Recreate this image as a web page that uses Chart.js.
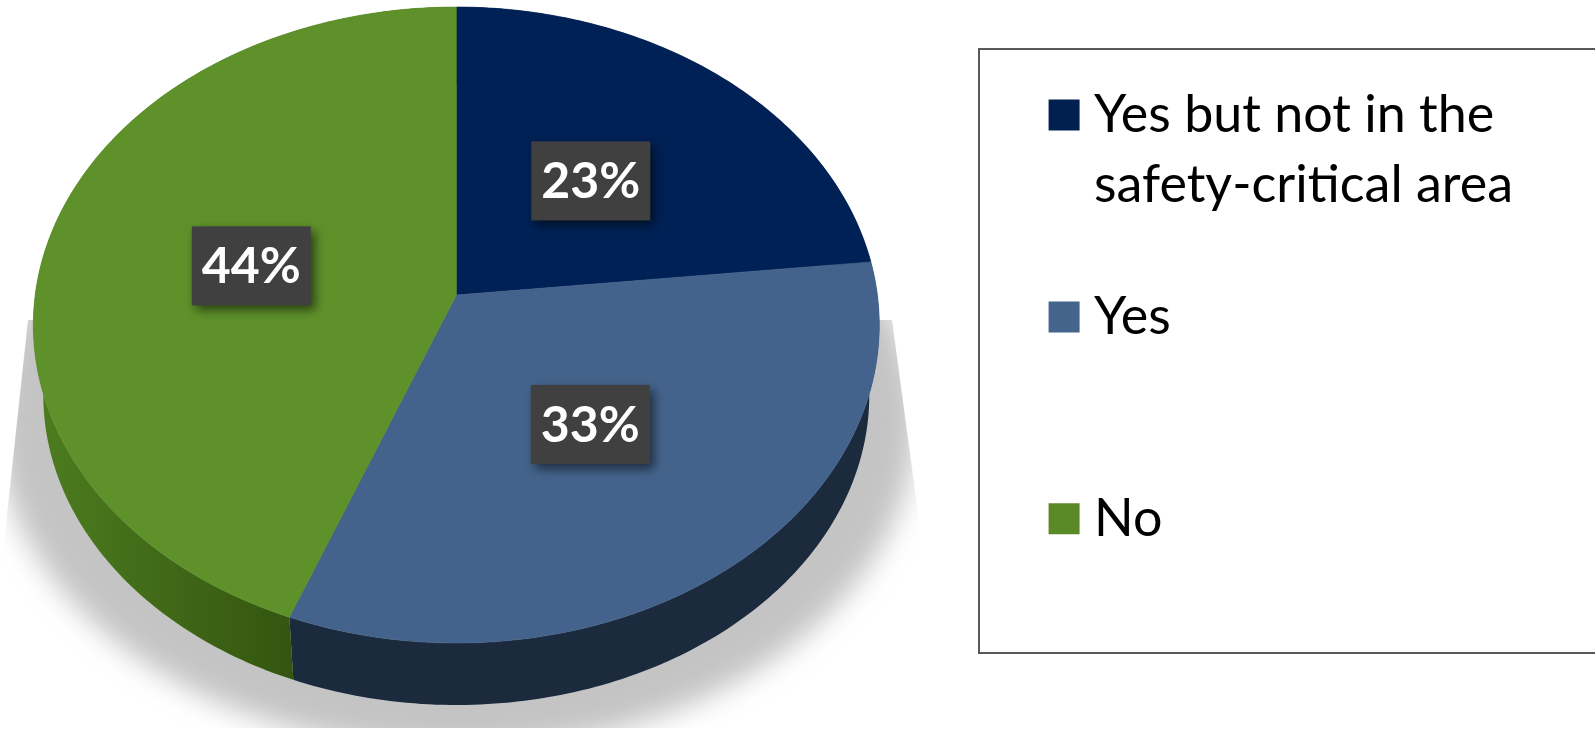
<!DOCTYPE html>
<html>
<head>
<meta charset="utf-8">
<style>
  html, body { margin: 0; padding: 0; background: #fff; overflow: hidden; }
  canvas { display: block; }
</style>
</head>
<body>
<canvas id="pieChart" width="1595" height="730"></canvas>
<script src="https://cdn.jsdelivr.net/npm/chart.js@4"></script>
<script>
const categories = [
    ["Yes but not in the", "safety-critical area"],
    ["Yes", ""],
    ["No"]
];
const shares = [23, 33, 44];
const topColors = ["#002155", "#44638c", "#5e912a"];
const wallColors = ["#16233a", "#1b2a3c", "#3f6a19"];
const legendColors = ["#00214f", "#44648c", "#5a8a28"];

const rimTilt = 0.075;   // perspective on the outer edge
const apexTilt = 0.094;  // how far the apex sits above the middle of the top ellipse
const discShift = -43;   // pie sits left of the plot area's centre

// point for an arc angle at radius r, in unit ellipse coordinates
function discPoint(angle, r, tilt) {
    const theta = angle + Math.PI / 2;
    const c = r * Math.cos(theta), s = r * Math.sin(theta);
    const w = 1 + tilt * c;
    return { x: s * Math.sqrt(1 - tilt * tilt) / w, y: (c + tilt) / w };
}

function topEllipse(arc) {
    return { x: arc.x + discShift, y: arc.y - 40, rx: arc.outerRadius * 1.2533, ry: arc.outerRadius * 0.9422 };
}

function bottomEllipse(arc) {
    return { x: arc.x + discShift, y: arc.y + 30, rx: arc.outerRadius * 1.2237, ry: arc.outerRadius * 0.9185 };
}

function place(e, p) {
    return { x: e.x + e.rx * p.x, y: e.y - e.ry * p.y };
}

function anglesOf(arc) {
    const out = [];
    const steps = Math.ceil((arc.endAngle - arc.startAngle) * 60);
    for (let i = 0; i <= steps; i++) {
        out.push(arc.startAngle + (arc.endAngle - arc.startAngle) * i / steps);
    }
    return out;
}

const pie3d = {
    id: "pie3d",
    beforeDatasetDraw(chart, args) {
        const ctx = chart.ctx;
        const arcs = args.meta.data;
        const first = arcs[0];
        const top = topEllipse(first), bottom = bottomEllipse(first);

        // soft floor shadow
        ctx.save();
        ctx.beginPath();
        ctx.moveTo(28, 320);
        ctx.lineTo(892, 320);
        ctx.lineTo(947, 728);
        ctx.lineTo(-16, 728);
        ctx.closePath();
        ctx.clip();
        ctx.filter = "blur(14px)";
        ctx.fillStyle = "#c4c4c4";
        ctx.beginPath();
        ctx.ellipse(top.x, 420, 460, 330, 0, 0, Math.PI * 2);
        ctx.fill();
        ctx.restore();

        // side walls
        arcs.forEach((arc, i) => {
            const angles = anglesOf(arc);
            ctx.beginPath();
            angles.forEach(a => {
                const p = place(top, discPoint(a, 1, rimTilt));
                ctx.lineTo(p.x, p.y);
            });
            angles.reverse().forEach(a => {
                const p = place(bottom, discPoint(a, 1, rimTilt));
                ctx.lineTo(p.x, p.y);
            });
            ctx.closePath();
            if (i === 2) {
                const g = ctx.createLinearGradient(40, 0, 300, 0);
                g.addColorStop(0, "#4c7c1f");
                g.addColorStop(1, "#33540f");
                ctx.fillStyle = g;
            } else {
                ctx.fillStyle = wallColors[i];
            }
            ctx.fill();
        });

        // top faces
        arcs.forEach((arc, i) => {
            const apex = place(top, discPoint(0, 0, apexTilt));
            ctx.beginPath();
            ctx.moveTo(apex.x, apex.y);
            anglesOf(arc).forEach(a => {
                const p = place(top, discPoint(a, 1, rimTilt));
                ctx.lineTo(p.x, p.y);
            });
            ctx.closePath();
            ctx.fillStyle = topColors[i];
            ctx.strokeStyle = topColors[i];
            ctx.lineWidth = 0.6;
            ctx.fill();
            ctx.stroke();
        });

        // percentage tags at half radius
        arcs.forEach((arc, i) => {
            const mid = (arc.startAngle + arc.endAngle) / 2;
            const p = place(top, discPoint(mid, 0.5, apexTilt));
            ctx.save();
            ctx.shadowColor = "rgba(0,0,0,0.55)";
            ctx.shadowBlur = 10;
            ctx.shadowOffsetX = 4;
            ctx.shadowOffsetY = 5;
            ctx.fillStyle = "#404040";
            ctx.fillRect(p.x - 59.5, p.y - 39.5, 119, 79);
            ctx.restore();
            ctx.fillStyle = "#ffffff";
            ctx.font = "bold 50px Lato";
            ctx.textAlign = "center";
            ctx.textBaseline = "middle";
            ctx.fillText(shares[i] + "%", p.x, p.y + 1);
        });
        return false;
    },
    afterDraw(chart) {
        // legend frame, open to the right edge
        const ctx = chart.ctx;
        ctx.save();
        ctx.strokeStyle = "#595959";
        ctx.lineWidth = 2;
        ctx.beginPath();
        ctx.moveTo(1600, 49);
        ctx.lineTo(979, 49);
        ctx.lineTo(979, 653);
        ctx.lineTo(1600, 653);
        ctx.stroke();
        ctx.restore();
    }
};

new Chart(document.getElementById("pieChart"), {
    type: "pie",
    data: {
        labels: categories,
        datasets: [{ data: shares, backgroundColor: topColors, borderWidth: 0 }]
    },
    plugins: [pie3d],
    options: {
        responsive: false,
        animation: false,
        devicePixelRatio: 1,
        layout: { padding: { top: 27.5, bottom: 27.5, right: 72 } },
        plugins: {
            tooltip: { enabled: false },
            legend: {
                position: "right",
                align: "start",
                labels: {
                    color: "#404040",
                    font: { family: "Lato", size: 52, lineHeight: 1.35 },
                    padding: 61.5,
                    boxWidth: 8,
                    boxHeight: 8,
                    generateLabels: chart => categories.map((text, i) => ({
                        text,
                        fillStyle: legendColors[i],
                        strokeStyle: legendColors[i],
                        lineWidth: 23,
                        index: i
                    }))
                }
            }
        }
    }
});
</script>
</body>
</html>
